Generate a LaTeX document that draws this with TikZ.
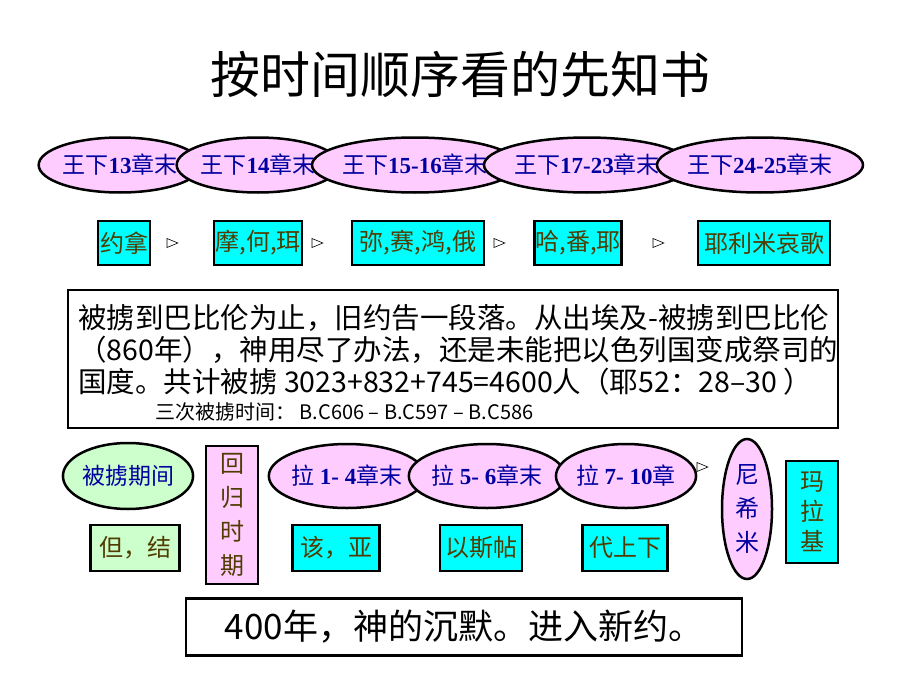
\documentclass[tikz,border=0pt]{standalone}
\usepackage{fontspec}
\setmainfont{Liberation Serif}
\newfontfamily\cjk{Noto Sans CJK SC}
\newfontfamily\hei{Noto Sans CJK SC}
\usetikzlibrary{positioning,shapes.geometric}
\definecolor{pinkfill}{RGB}{255,204,255}
\definecolor{greenfill}{RGB}{204,255,204}
\definecolor{cyanfill}{RGB}{0,255,255}
\definecolor{bluetext}{RGB}{0,0,160}
\definecolor{olivetext}{RGB}{80,60,0}
\newcommand{\bnum}[1]{{\rmfamily\bfseries #1}}

\begin{document}
\begin{tikzpicture}[x=1pt,y=-1pt,
	book/.style={ellipse, draw=black, line width=2.5pt, fill=pinkfill, text=bluetext,
		inner sep=0pt, font=\cjk\fontsize{23}{26}\selectfont},
	prophet/.style={rectangle, draw=black, line width=2.5pt, fill=cyanfill, text=olivetext,
		inner sep=0pt, font=\cjk\fontsize{24}{28}\selectfont},
	marker/.style={isosceles triangle, draw=black, fill=white, line width=0.6pt,
		minimum width=9pt, minimum height=8pt, inner sep=0pt}]

	\useasboundingbox (0,0) rectangle (920,690);

	\node (title) at (460,75) {\cjk\fontsize{50}{54}\selectfont 按时间顺序看的先知书};

	% kings
	\node[book, minimum width=136, minimum height=55] (k1) at (120,165) {王下\bnum{13}章末};
	\node[book, minimum width=136, minimum height=55] (k2) at (258,165) {王下\bnum{14}章末};
	\node[book, minimum width=170, minimum height=55] (k3) at (415,165) {王下\bnum{15-16}章末};
	\node[book, minimum width=165, minimum height=55] (k4) at (587,165) {王下\bnum{17-23}章末};
	\node[book, minimum width=170, minimum height=55] (k5) at (760,165) {王下\bnum{24-25}章末};

	% prophets before exile
	\node[prophet, minimum width=52, minimum height=44] (p1) at (124,243) {约拿};
	\node[prophet, minimum width=88, minimum height=44] (p2) at (258,243) {摩,何,珥};
	\node[prophet, minimum width=132, minimum height=44] (p3) at (418,243) {弥,赛,鸿,俄};
	\node[prophet, minimum width=87, minimum height=44] (p4) at (578,243) {哈,番,耶};
	\node[prophet, minimum width=132, minimum height=44] (p5) at (764,243) {耶利米哀歌};

	\node[marker] (m1) at (170,243) {};
	\node[marker] (m2) at (315,243) {};
	\node[marker] (m3) at (497,243) {};
	\node[marker] (m4) at (656,243) {};

	% summary
	\draw[line width=2.5pt] (68,290) rectangle (838,428);
	\node[anchor=west, inner sep=0pt, font=\hei\fontsize{28.5}{30}\selectfont] (s1) at (78,318) {被掳到巴比伦为止，旧约告一段落。从出埃及-被掳到巴比伦};
	\node[anchor=west, inner sep=0pt, font=\hei\fontsize{28.5}{30}\selectfont] (s2) at (78,350) {（860年），神用尽了办法，还是未能把以色列国变成祭司的};
	\node[anchor=west, inner sep=0pt, font=\hei\fontsize{28.5}{30}\selectfont] (s3) at (78,382) {国度。共计被掳 3023+832+745=4600人（耶52：28–30 ）};
	\node[anchor=west, inner sep=0pt, font=\hei\fontsize{20}{22}\selectfont] (s4) at (155,412) {三次被掳时间： B.C606 – B.C597 – B.C586};

	% exile and return
	\node[book, fill=greenfill, minimum width=122, minimum height=66] (e1) at (128,476) {被掳期间};
	\node[prophet, fill=pinkfill, minimum width=52, minimum height=138, align=center,
		font=\cjk\fontsize{24}{34}\selectfont] (r1) at (232,515) {回\\归\\时\\期};
	\node[book, minimum width=128, minimum height=64] (e2) at (347,476) {拉 \bnum{1- 4}章末};
	\node[book, minimum width=128, minimum height=64] (e3) at (487,476) {拉 \bnum{5- 6}章末};
	\node[book, minimum width=125, minimum height=64] (e4) at (626,476) {拉 \bnum{7- 10}章};
	\node[marker] (m5) at (700,467) {};
	\node[book, minimum width=50, minimum height=140, align=center,
		font=\cjk\fontsize{24}{34}\selectfont] (e5) at (747,509) {尼\\希\\米};
	\node[prophet, minimum width=52, minimum height=102, align=center,
		font=\cjk\fontsize{24}{30}\selectfont] (p6) at (812,512) {玛\\拉\\基};

	\node[prophet, fill=greenfill, minimum width=89, minimum height=46] (q1) at (135,548) {但，结};
	\node[prophet, minimum width=87, minimum height=46] (q2) at (336,548) {该，亚};
	\node[prophet, minimum width=82, minimum height=46] (q3) at (481,548) {以斯帖};
	\node[prophet, minimum width=85, minimum height=46] (q4) at (625,548) {代上下};

	% silence
	\node[draw=black, line width=2.5pt, minimum width=556, minimum height=57,
		font=\hei\fontsize{35}{38}\selectfont] (end) at (464,627) {400年，神的沉默。进入新约。};

\end{tikzpicture}
\end{document}
